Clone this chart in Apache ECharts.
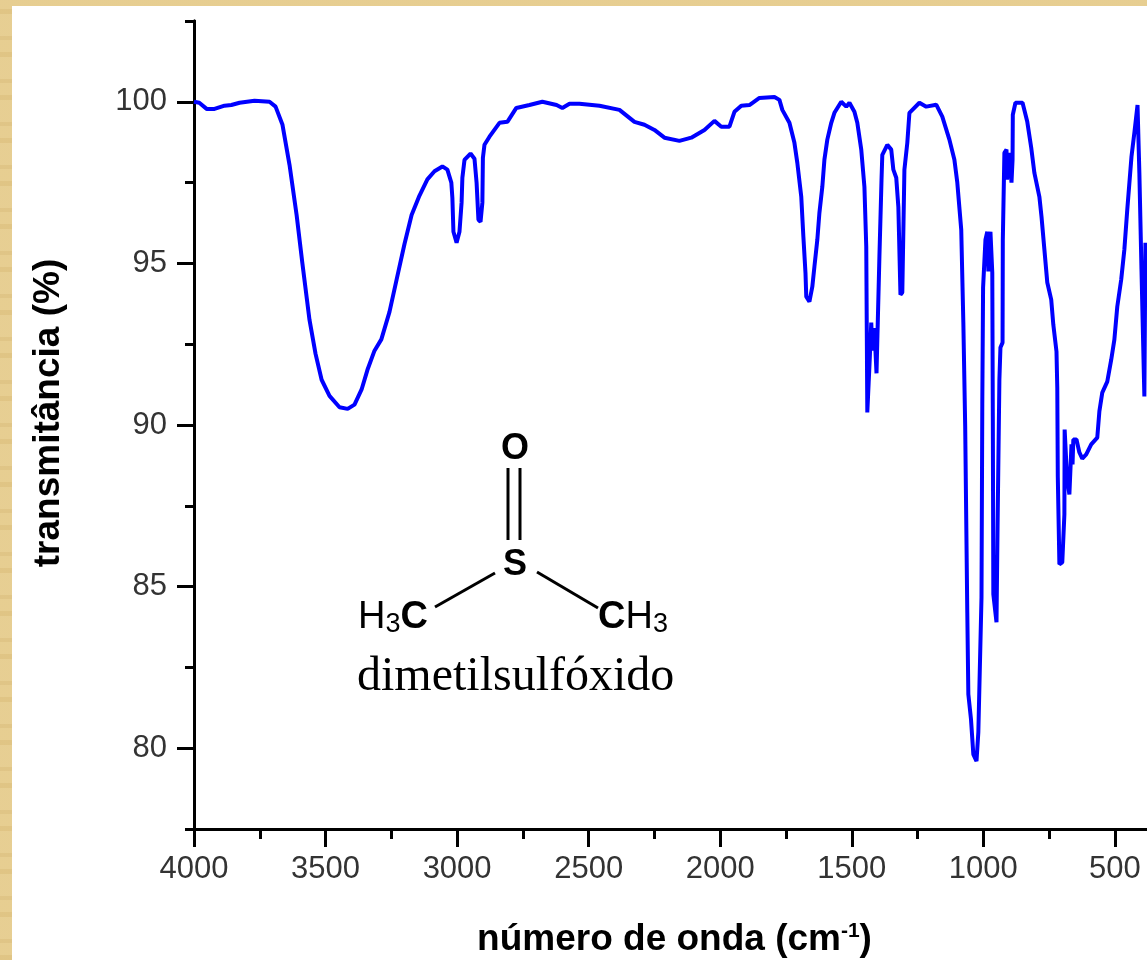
<!DOCTYPE html>
<html lang="pt"><head><meta charset="utf-8">
<style>
html,body{margin:0;padding:0;width:1147px;height:960px;overflow:hidden}
body{background-color:#e4ca8c;background-image:repeating-linear-gradient(0deg,rgba(190,150,70,.10) 0 5px,rgba(255,240,190,.10) 5px 17px,rgba(170,130,60,.07) 17px 21px,rgba(255,245,205,.10) 21px 43px)}
#panel{position:absolute;left:12px;top:6px;right:0;bottom:0;background:#fff}
#chart{position:absolute;left:0;top:0;width:1147px;height:960px}
</style>
<script src="https://cdn.jsdelivr.net/npm/echarts@6/dist/echarts.min.js"></script>
</head><body><div id="panel"></div><div id="chart"></div>
<script>
const wavenumbers = [
4000,3980,3952,3922,3884,3858,3827,3770,3713,3690,3664,3637,3610,3588,3561,3538,3515,3485,3447,3416,3390,3363,3341,3314,3288,3257,3230,3200,3173,3143,3113,3086,3056,
3037,3022,3018,3014,3002,2991,2983,2980,2972,2949,2934,2926,2919,2911,2904,2902,2896,2877,2839,2809,2775,2725,2676,2622,2600,2573,2535,2459,2383,2326,2288,2250,2212,2155,2110,2060,2022,1996,1965,1946,1920,1889,1851,1794,
1775,1764,1737,1718,1707,1692,1684,1676,1673,1661,1650,1642,1631,1623,1612,1604,1593,1578,1566,1540,1521,1509,1490,1479,1464,1452,1445,1441,1432,1426,1422,1414,1406,1403,1395,1387,1384,1365,1350,1342,1331,1323,1315,1308,1300,1289,1281,1243,1217,1179,1156,1129,1110,1099,1084,1076,
1069,1061,1057,1047,1038,1026,1019,1007,1004,1001,992,985,981,973,970,966,964,962,950,946,939,935,927,926,920,912,910,901,893,889,888,878,851,833,818,806,787,779,768,757,742,734,722,719,717,711,700,692,691,684,682,673,665,661,658,646,635,624,609,590,567,559,548,529,514,502,491,476,464,453,437,426,414,407,399,388,384];
const transmittance = [
100,99.97,99.78,99.78,99.88,99.9,99.97,100.03,100,99.85,99.3,98.05,96.5,95,93.25,92.2,91.4,90.9,90.55,90.5,90.63,91.1,91.7,92.3,92.65,93.5,94.5,95.6,96.5,97.1,97.6,97.85,98,
97.9,97.5,97.03,95.98,95.64,95.98,96.88,97.65,98.2,98.4,98.24,97.5,96.35,96.29,96.88,98.27,98.67,98.92,99.35,99.38,99.81,99.9,100,99.9,99.81,99.94,99.94,99.88,99.75,99.38,99.29,99.13,98.89,98.79,98.89,99.13,99.41,99.23,99.23,99.69,99.88,99.9,100.12,100.15,
100.06,99.75,99.35,98.73,98.11,97.06,95.83,94.71,93.97,93.82,94.28,94.9,95.73,96.57,97.37,98.21,98.83,99.35,99.66,100,99.85,99.97,99.69,99.35,98.52,97.37,95.52,90.39,92,93.17,92.3,93,91.6,92.6,95.21,97.59,98.36,98.67,98.52,97.9,97.65,96.75,94.03,94.1,97.9,98.73,99.66,99.97,99.85,99.91,99.54,98.83,98.21,97.5,96.04,93.17,
89.95,84.2,81.67,80.9,79.81,79.6,80.5,84.67,90.63,94.25,95.73,95.98,94.75,95.98,95.98,94.71,90.26,84.76,83.9,86.83,91.4,92.4,92.55,95.73,98.42,98.52,97.59,98.42,97.5,98.2,99.6,99.97,99.97,99.38,98.58,97.8,97.06,96.45,95.43,94.41,93.88,93.1,92.27,91.16,88.4,85.69,85.75,87.23,89.86,89.92,88.38,87.85,89.4,88.78,89.55,89.55,89.15,88.96,89.09,89.4,89.61,90.42,91,91.34,92.02,92.64,93.66,94.5,95.43,96.66,98.3,99.04,99.9,97.8,94.81,90.88,95.64];
const xMajorTicks = [4000,3500,3000,2500,2000,1500,1000,500];
const xMinorTicks = [3750,3250,2750,2250,1750,1250,750];
const yMajorTicks = [80,85,90,95,100];
const xTitle = 'número de onda (cm';
const yTitle = 'transmitância (%)';
const moleculeName = 'dimetilsulfóxido';

const sans = '"Liberation Sans", Arial, sans-serif';
const serif = '"Liberation Serif", "Times New Roman", serif';
const points = wavenumbers.map((w, i) => [w, transmittance[i]]);
const chart = echarts.init(document.getElementById('chart'), null, {renderer:'canvas'});

function txt(text, x, y, size, font, weight, align) {
  return {type:'text', x, y, z:20, style:{text, fontSize:size, fontFamily:font||sans, fontWeight:weight||'normal', fill:'#000', textAlign:align||'left', textVerticalAlign:'middle'}};
}
function bond(x1,y1,x2,y2){
  return {type:'line', z:20, shape:{x1,y1,x2,y2}, style:{stroke:'#000', lineWidth:3}};
}
const chemRich = {
  n:{fontSize:38,fontFamily:sans,fill:'#000'},
  s:{fontSize:27,fontFamily:sans,fill:'#000',verticalAlign:'bottom',padding:[14,0,0,0]},
  b:{fontSize:38,fontFamily:sans,fontWeight:'bold',fill:'#000'}
};

chart.setOption({
  animation:false,
  backgroundColor:'transparent',
  grid:{left:194, top:21, right:0, height:808, containLabel:false, outerBoundsMode:'none'},
  xAxis:[{
    type:'value', inverse:true, min:378, max:4000,
    splitLine:{show:false},
    axisLine:{onZero:false, lineStyle:{color:'#000', width:3}},
    axisTick:{length:18, customValues:xMajorTicks, lineStyle:{color:'#000', width:3}},
    axisLabel:{color:'#333', fontSize:31, fontFamily:sans, margin:25, customValues:xMajorTicks, formatter:v=>String(v)},
    name:'{a|'+xTitle+'}{s|-1}{a|)}', nameLocation:'middle', nameGap:92,
    nameTextStyle:{padding:[0,0,0,8], rich:{
      a:{fontSize:37, fontWeight:'bold', fontFamily:sans, color:'#000'},
      s:{fontSize:21, fontWeight:'bold', fontFamily:sans, color:'#000', verticalAlign:'top', padding:[0,0,16,0]}}}
  },{
    type:'value', inverse:true, position:'bottom', offset:0, min:378, max:4000,
    splitLine:{show:false},
    axisLine:{onZero:false, lineStyle:{color:'#000', width:3}},
    axisTick:{length:10, customValues:xMinorTicks, lineStyle:{color:'#000', width:3}},
    axisLabel:{show:false}
  }],
  yAxis:[{
    type:'value', min:77.5, max:102.5, interval:2.5,
    splitLine:{show:false},
    axisLine:{onZero:false, lineStyle:{color:'#000', width:3}},
    axisTick:{length:9, lineStyle:{color:'#000', width:3}},
    axisLabel:{show:false}
  },{
    type:'value', position:'left', offset:0, min:77.5, max:102.5, interval:2.5,
    splitLine:{show:false},
    axisLine:{onZero:false, lineStyle:{color:'#000', width:3}},
    axisTick:{length:17, customValues:yMajorTicks, lineStyle:{color:'#000', width:3}},
    axisLabel:{color:'#333', fontSize:31, fontFamily:sans, margin:27, padding:[2,0,0,0], customValues:yMajorTicks},
    name:yTitle, nameLocation:'middle', nameGap:127, nameRotate:90,
    nameTextStyle:{fontSize:37, fontWeight:'bold', fontFamily:sans, color:'#000', padding:[0,0,0,24]}
  }],
  series:[{type:'line', data:points, xAxisIndex:0, yAxisIndex:0, showSymbol:false, smooth:false, z:5,
    lineStyle:{color:'#0000ff', width:4}, itemStyle:{color:'#0000ff'}}],
  graphic:[
    txt('O',515,449,36,sans,'bold','center'),
    txt('S',515,565,36,sans,'bold','center'),
    bond(508,468,508,540), bond(520,468,520,540),
    bond(435,607,495,573), bond(537,572,598,608),
    {type:'text', x:358, y:618, z:20, style:{text:'{n|H}{s|3}{b|C}', textVerticalAlign:'middle', rich:chemRich}},
    {type:'text', x:598, y:618, z:20, style:{text:'{b|C}{n|H}{s|3}', textVerticalAlign:'middle', rich:chemRich}},
    txt(moleculeName,357,677,48,serif,'normal','left')
  ]
});
</script></body></html>
